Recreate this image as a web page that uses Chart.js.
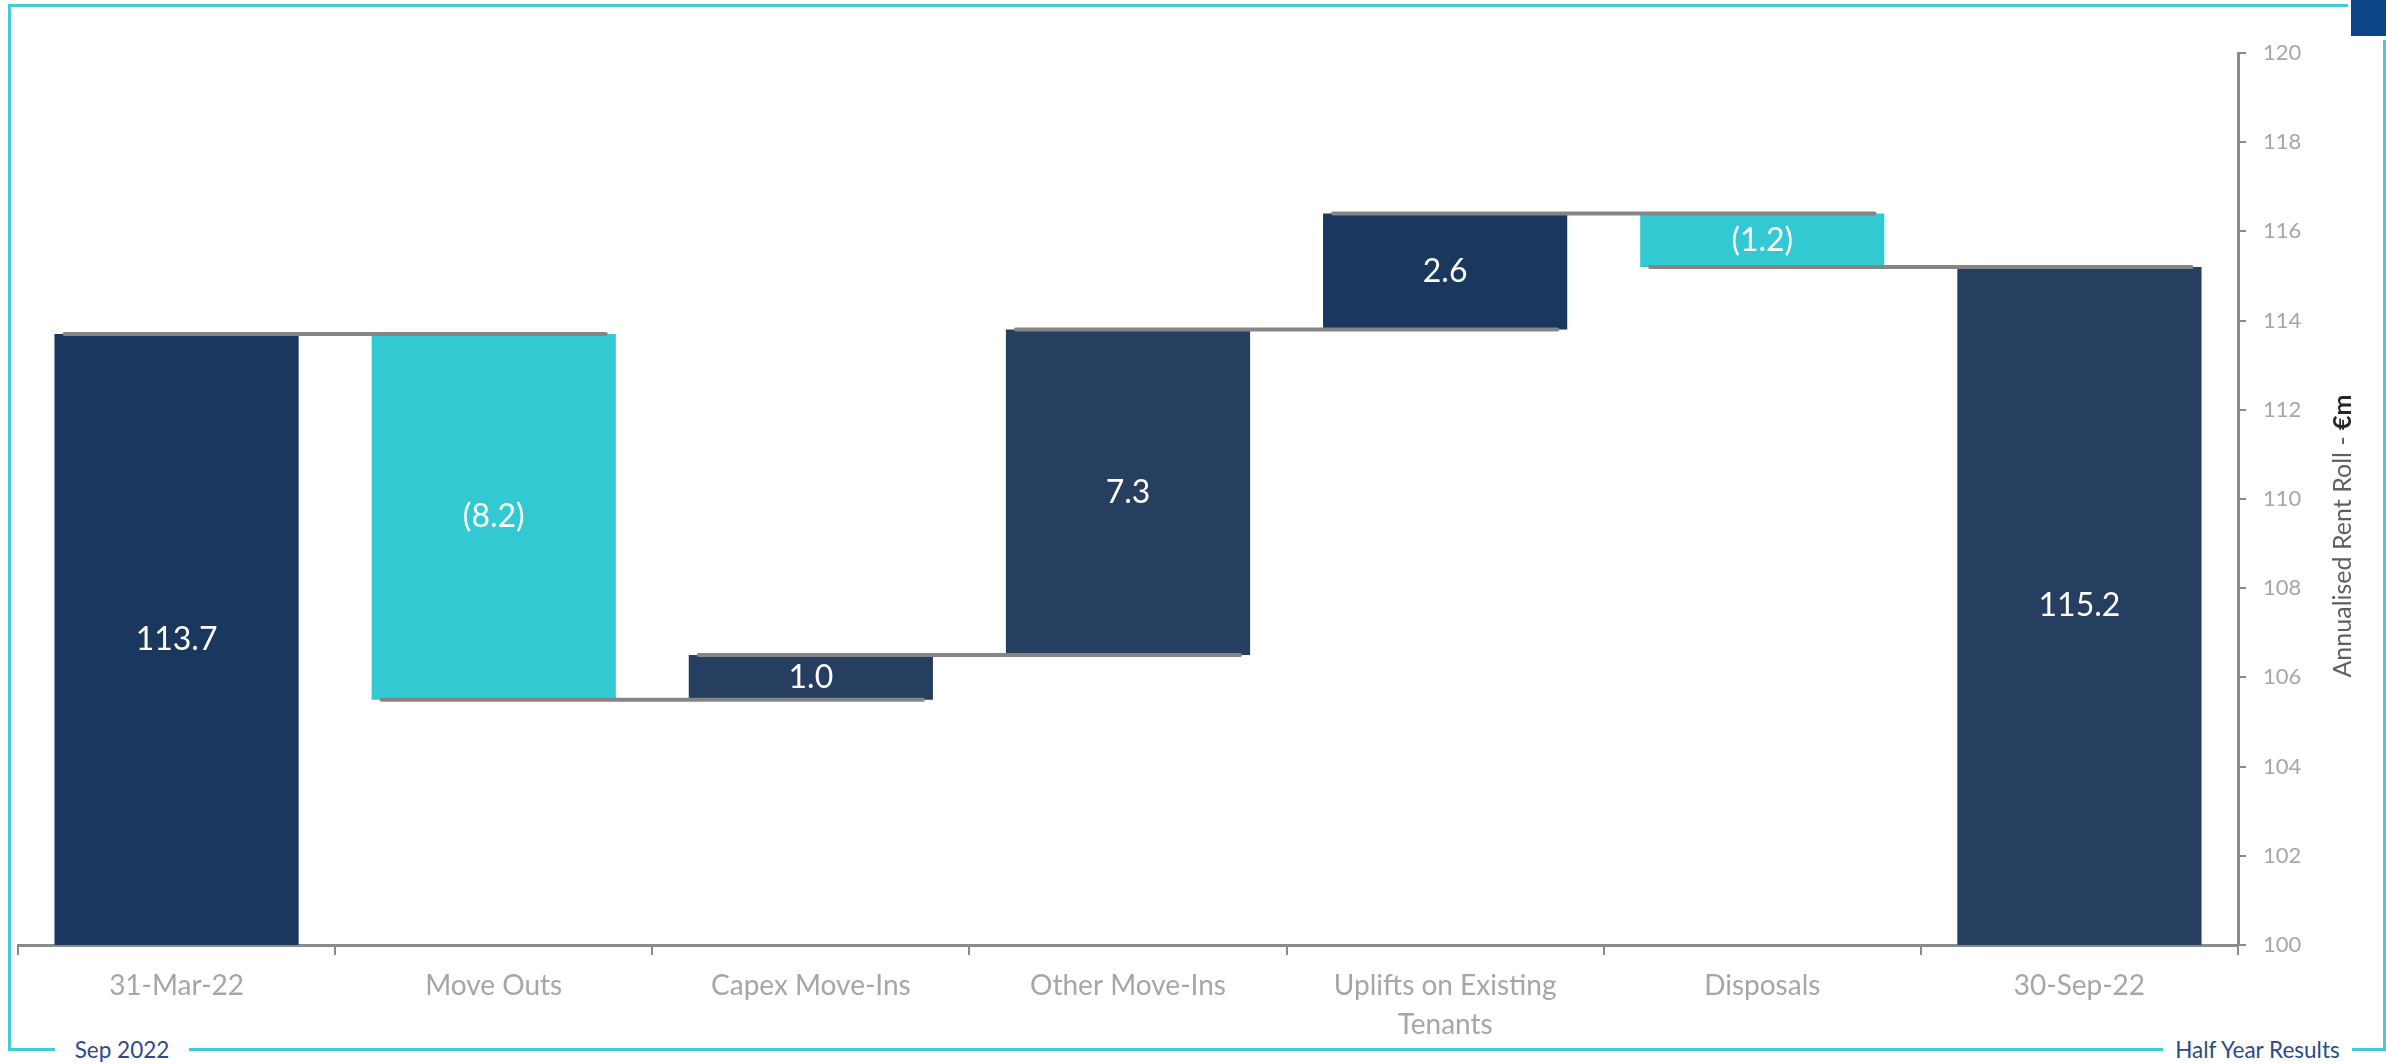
<!DOCTYPE html>
<html>
<head>
<meta charset="utf-8">
<title>Annualised Rent Roll Bridge</title>
<script src="https://cdn.jsdelivr.net/npm/chart.js@4.4.1/dist/chart.umd.min.js"></script>
<style>
  html, body { margin: 0; padding: 0; background: #ffffff; }
  #wrap { position: relative; width: 2386px; height: 1064px; overflow: hidden; background: #ffffff; }
  #chart { position: absolute; left: 0; top: 0; }
  .rule { position: absolute; background: #40CDD6; }
  .tab { position: absolute; left: 2351px; top: 0; width: 35px; height: 36px; background: #0C4488; }
  .foot { position: absolute; top: 1034px; height: 32px; line-height: 32px; background: #ffffff;
          font-family: Lato, "Open Sans", sans-serif; font-size: 22.5px; color: #2B4A8B; text-align: center; }
</style>
</head>
<body>
<div id="wrap">
  <canvas id="chart" width="2386" height="1064"></canvas>
  <div class="rule" style="left:8px; top:4px; width:2340px; height:3px;"></div>
  <div class="rule" style="left:8px; top:4px; width:3px; height:1047px;"></div>
  <div class="rule" style="left:8px; top:1048px; width:2378px; height:3px;"></div>
  <div class="rule" style="left:2383px; top:40px; width:3px; height:1011px;"></div>
  <div class="tab"></div>
  <div class="foot" style="left:55px; width:134px;">Sep 2022</div>
  <div class="foot" style="left:2163px; width:189px;">Half Year Results</div>
</div>
<script>
// Bridge categories and movements (€m)
const categories = ['31-Mar-22', 'Move Outs', 'Capex Move-Ins', 'Other Move-Ins',
                    ['Uplifts on Existing', 'Tenants'], 'Disposals', '30-Sep-22'];
const movements = [113.7, -8.2, 1.0, 7.3, 2.6, -1.2, 115.2];
const isTotal = [true, false, false, false, false, false, true];
const barColors = ['#1A375E', '#33C9D3', '#263F60', '#263F60', '#1A375E', '#33C9D3', '#263F60'];

// Value axis
const yMin = 100;
const yMax = 120;
const yStep = 2;

// Floating ranges for the waterfall: totals rise from the axis floor,
// movements float between the running totals before and after them
const ranges = [];
let running = 0;
movements.forEach((v, i) => {
  if (isTotal[i]) {
    ranges.push([yMin, v]);
    running = v;
  } else {
    const start = running;
    running = Math.round((running + v) * 10) / 10;
    ranges.push([start, running]);
  }
});
// Running total after each bar, where the connector to the next bar sits
const levels = ranges.map(r => r[1]);

const fmt = v => v < 0 ? '(' + Math.abs(v).toFixed(1) + ')' : v.toFixed(1);

const FONT = 'Lato, "Open Sans", sans-serif';

const connectors = {
  id: 'connectors',
  afterDatasetsDraw(chart) {
    const meta = chart.getDatasetMeta(0);
    const y = chart.scales.y;
    const ctx = chart.ctx;
    ctx.save();
    ctx.strokeStyle = '#858585';
    ctx.lineWidth = 4;
    ctx.lineCap = 'round';
    for (let i = 0; i < meta.data.length - 1; i++) {
      const a = meta.data[i], b = meta.data[i + 1];
      const py = y.getPixelForValue(levels[i]);
      ctx.beginPath();
      ctx.moveTo(a.x - a.width / 2 + 10, py);
      ctx.lineTo(b.x + b.width / 2 - 10, py);
      ctx.stroke();
    }
    ctx.restore();
  }
};

const barLabels = {
  id: 'barLabels',
  afterDatasetsDraw(chart) {
    const meta = chart.getDatasetMeta(0);
    const ctx = chart.ctx;
    ctx.save();
    ctx.fillStyle = '#ffffff';
    ctx.font = '32px ' + FONT;
    ctx.textAlign = 'center';
    ctx.textBaseline = 'middle';
    meta.data.forEach((el, i) => {
      ctx.fillText(fmt(movements[i]), el.x, (el.y + el.base) / 2);
    });
    ctx.restore();
  }
};

const axisTitle = {
  id: 'axisTitle',
  afterDraw(chart) {
    const ctx = chart.ctx;
    const partA = 'Annualised Rent Roll - ';
    const partB = '€m';
    ctx.save();
    ctx.translate(chart.width - 43, 536);
    ctx.rotate(-Math.PI / 2);
    ctx.textBaseline = 'middle';
    ctx.textAlign = 'left';
    ctx.font = '25px ' + FONT;
    const wA = ctx.measureText(partA).width;
    ctx.font = 'bold 25px ' + FONT;
    const wB = ctx.measureText(partB).width;
    const x0 = -(wA + wB) / 2;
    ctx.font = '25px ' + FONT;
    ctx.fillStyle = '#5F5F5F';
    ctx.fillText(partA, x0, 0);
    ctx.font = 'bold 25px ' + FONT;
    ctx.fillStyle = '#262626';
    ctx.fillText(partB, x0 + wA, 0);
    ctx.restore();
  }
};

function draw() {
  new Chart(document.getElementById('chart'), {
    type: 'bar',
    data: {
      labels: categories,
      datasets: [{
        data: ranges,
        backgroundColor: barColors,
        borderWidth: 0,
        borderSkipped: false,
        categoryPercentage: 1.0,
        barPercentage: 0.77,
        clip: 0
      }]
    },
    options: {
      responsive: false,
      devicePixelRatio: 1,
      animation: false,
      layout: { padding: { left: 18, top: 53, right: 0, bottom: 0 } },
      plugins: { legend: { display: false }, tooltip: { enabled: false } },
      scales: {
        x: {
          offset: true,
          grid: { offset: true, drawOnChartArea: false, drawTicks: true, tickLength: 10, color: '#8A8A8A', lineWidth: 2 },
          border: { display: true, color: '#8A8A8A', width: 3 },
          ticks: { color: '#A6A6A6', font: { family: FONT, size: 28, lineHeight: 1.4 }, padding: 11, maxRotation: 0, autoSkip: false },
          afterFit: s => { s.height = 119; }
        },
        y: {
          position: 'right',
          min: yMin,
          max: yMax,
          grid: { drawOnChartArea: false, drawTicks: true, tickLength: 8, color: '#8A8A8A', lineWidth: 2 },
          border: { display: true, color: '#8A8A8A', width: 3 },
          ticks: { stepSize: yStep, color: '#A6A6A6', font: { family: FONT, size: 22 }, padding: 17 },
          afterFit: s => { s.width = 148; }
        }
      }
    },
    plugins: [connectors, barLabels, axisTitle]
  });
}

if (document.fonts && document.fonts.load) {
  Promise.all([
    document.fonts.load('28px Lato'),
    document.fonts.load('bold 25px Lato')
  ]).then(draw, draw);
} else {
  draw();
}
</script>
</body>
</html>
